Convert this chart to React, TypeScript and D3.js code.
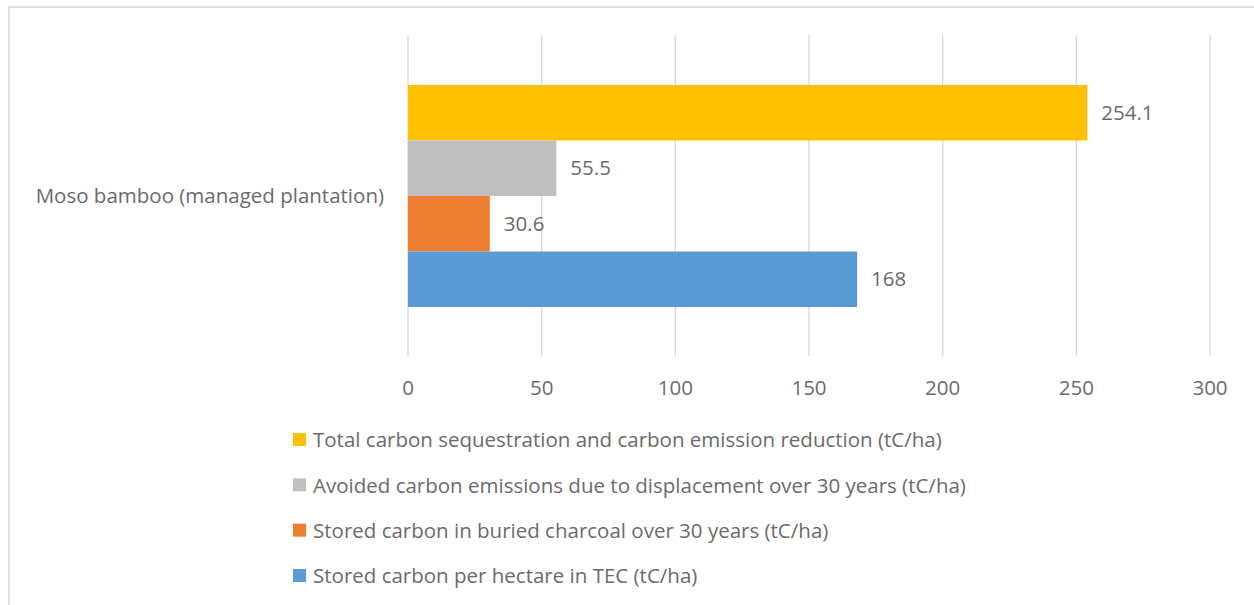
import React, { useEffect, useRef } from "react";
import * as d3 from "d3";

const WIDTH = 1254;
const HEIGHT = 605;

const category = "Moso bamboo (managed plantation)";
const seriesNames = [
  "Total carbon sequestration and carbon emission reduction (tC/ha)",
  "Avoided carbon emissions due to displacement over 30 years (tC/ha)",
  "Stored carbon in buried charcoal over 30 years (tC/ha)",
  "Stored carbon per hectare in TEC (tC/ha)",
];
const seriesValues = [254.1, 55.5, 30.6, 168];
const seriesLabels = ["254.1", "55.5", "30.6", "168"];
const seriesColors = ["#FFC000", "#BFBFBF", "#ED7D31", "#5B9BD5"];
const xTicks = [0, 50, 100, 150, 200, 250, 300];

const FONT = "'Open Sans', sans-serif";
const FS = 20.5;
const TEXT = "#6b6b6b";

export default function App() {
  const svgRef = useRef<SVGSVGElement | null>(null);

  useEffect(() => {
    const svg = d3.select(svgRef.current);
    svg.selectAll("*").remove();

    // chart frame (runs off the right and bottom edge)
    svg
      .append("rect")
      .attr("x", 9)
      .attr("y", 7)
      .attr("width", WIDTH + 20)
      .attr("height", HEIGHT + 20)
      .attr("fill", "white")
      .attr("stroke", "#D9D9D9")
      .attr("stroke-width", 1.5);

    const x = d3.scaleLinear().domain([0, 300]).range([408, 1210]);
    const band = d3.scaleBand().domain([category]).range([35, 356]);
    const inner = d3
      .scaleBand()
      .domain(seriesNames)
      .range([band(category)! + 50, band(category)! + band.bandwidth() - 49]);

    const g = svg.append("g");

    g.selectAll("line.grid")
      .data(xTicks)
      .join("line")
      .attr("class", "grid")
      .attr("x1", (d) => x(d))
      .attr("x2", (d) => x(d))
      .attr("y1", 35)
      .attr("y2", 356)
      .attr("stroke", "#D9D9D9")
      .attr("stroke-width", 1.3);

    g.selectAll("text.tick")
      .data(xTicks)
      .join("text")
      .attr("class", "tick")
      .attr("x", (d) => x(d))
      .attr("y", 388)
      .attr("dy", "0.35em")
      .attr("text-anchor", "middle")
      .attr("font-family", FONT)
      .attr("font-size", FS)
      .attr("fill", TEXT)
      .text((d) => d);

    g.selectAll("rect.bar")
      .data(seriesNames)
      .join("rect")
      .attr("class", "bar")
      .attr("x", x(0))
      .attr("y", (d) => inner(d)!)
      .attr("width", (_, i) => x(seriesValues[i]) - x(0))
      .attr("height", inner.bandwidth())
      .attr("fill", (_, i) => seriesColors[i]);

    g.selectAll("text.val")
      .data(seriesNames)
      .join("text")
      .attr("class", "val")
      .attr("x", (_, i) => x(seriesValues[i]) + 14)
      .attr("y", (d) => inner(d)! + inner.bandwidth() / 2)
      .attr("dy", "0.35em")
      .attr("font-family", FONT)
      .attr("font-size", FS)
      .attr("fill", TEXT)
      .text((_, i) => seriesLabels[i]);

    g.append("text")
      .attr("x", 384)
      .attr("y", band(category)! + band.bandwidth() / 2)
      .attr("dy", "0.35em")
      .attr("text-anchor", "end")
      .attr("font-family", FONT)
      .attr("font-size", FS)
      .attr("fill", TEXT)
      .text(category);

    // legend
    const legendY = d3.scalePoint().domain(seriesNames).range([440, 576]);
    const lg = g
      .selectAll("g.legend")
      .data(seriesNames)
      .join("g")
      .attr("class", "legend")
      .attr("transform", (d) => `translate(293,${legendY(d)})`);
    lg.append("rect")
      .attr("x", 0)
      .attr("y", -7)
      .attr("width", 13)
      .attr("height", 13)
      .attr("fill", (_, i) => seriesColors[i]);
    lg.append("text")
      .attr("x", 20)
      .attr("y", 0)
      .attr("dy", "0.35em")
      .attr("font-family", FONT)
      .attr("font-size", FS)
      .attr("fill", TEXT)
      .text((d) => d);
  }, []);

  return (
    <svg
      ref={svgRef}
      width={WIDTH}
      height={HEIGHT}
      style={{ position: "absolute", left: 0, top: 0 }}
    />
  );
}
